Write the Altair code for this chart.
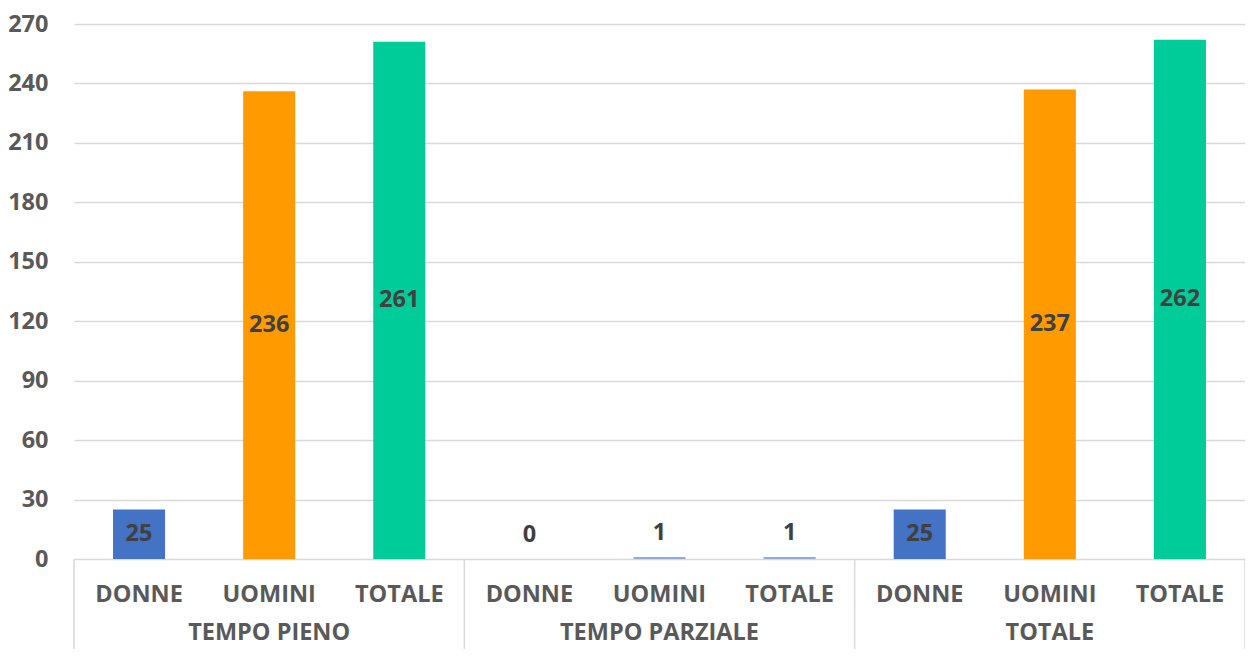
import altair as alt
import pandas as pd

groups = ["TEMPO PIENO", "TEMPO PARZIALE", "TOTALE"]
categories = ["DONNE", "UOMINI", "TOTALE"]
values = [25, 236, 261, 0, 1, 1, 25, 237, 262]
bar_colors = ["#4472C4", "#FF9A00", "#00CC99",
              "#4472C4", "#8FAADC", "#8FAADC",
              "#4472C4", "#FF9A00", "#00CC99"]
y_ticks = [0, 30, 60, 90, 120, 150, 180, 210, 240, 270]

rows = []
for gi, g in enumerate(groups):
    for ci, c in enumerate(categories):
        i = gi * len(categories) + ci
        rows.append({"key": f"{g}|{c}", "group": g, "cat": c,
                     "value": values[i], "color": bar_colors[i]})
df = pd.DataFrame(rows)
keys = list(df["key"])

# group label at middle bar of each group
mid = df[df["cat"] == categories[len(categories) // 2]].copy()

# group boundaries (in item units)
n = len(categories)
bounds = pd.DataFrame({"b": [i * n for i in range(len(groups) + 1)]})

W, H = 1171, 535
FONT = "Open Sans"
FS = 23.5
TXT = "#595959"
LBL = "#404040"

xs = alt.Scale(domain=keys, paddingInner=0.6, paddingOuter=0.3)
X = alt.X("key:N", scale=xs, axis=None, sort=keys)
ys = alt.Scale(domain=[0, 270], nice=False)

bars = alt.Chart(df).mark_bar().encode(
    x=X,
    y=alt.Y("value:Q", scale=ys,
            axis=alt.Axis(values=y_ticks, title=None, domain=False, ticks=False,
                          tickSize=0, labelPadding=26, grid=True,
                          gridColor="#D9D9D9", gridWidth=1.5,
                          labelFont=FONT, labelFontSize=FS,
                          labelFontWeight="bold", labelColor=TXT)),
    color=alt.Color("color:N", scale=None),
)

big = alt.Chart(df).transform_filter("datum.value >= 10").transform_calculate(
    mid="datum.value / 2").mark_text(
    font=FONT, fontSize=FS, fontWeight="bold", color=LBL, baseline="middle"
).encode(x=X, y=alt.Y("mid:Q", scale=ys), text="value:Q")

small = alt.Chart(df).transform_filter("datum.value < 10").mark_text(
    font=FONT, fontSize=FS, fontWeight="bold", color=LBL, baseline="middle", dy=-24
).encode(x=X, y=alt.Y("value:Q", scale=ys), text="value:Q")

catlab = alt.Chart(df).mark_text(
    font=FONT, fontSize=FS, fontWeight="bold", color=TXT, baseline="middle"
).encode(x=X, y=alt.value(H + 36), text="cat:N")

grplab = alt.Chart(mid).mark_text(
    font=FONT, fontSize=FS, fontWeight="bold", color=TXT, baseline="middle"
).encode(x=X, y=alt.value(H + 74), text="group:N")

rules = alt.Chart(bounds).mark_rule(color="#D9D9D9", strokeWidth=1.5).encode(
    x=alt.X("b:Q", scale=alt.Scale(domain=[0, len(keys)], nice=False, zero=False), axis=None),
    y=alt.value(H), y2=alt.value(H + 110),
)

chart = alt.layer(bars, big, small, catlab, grplab, rules).resolve_scale(
    x="independent"
).properties(
    width=W, height=H,
    autosize=alt.AutoSizeParams(type="none"),
    padding={"left": 66, "top": 16, "right": 0, "bottom": 90},
).configure_view(stroke=None)

chart.save("out.html", embed_options={"renderer": "svg", "actions": False})
